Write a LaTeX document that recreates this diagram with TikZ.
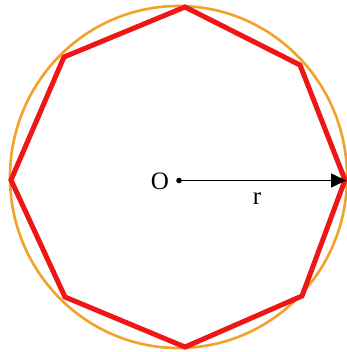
\documentclass[tikz,border=0pt]{standalone}
\usepackage{fontspec}
\setmainfont{Liberation Serif}
\usetikzlibrary{arrows.meta}
\definecolor{ringorange}{RGB}{242,162,40}
\definecolor{polyred}{RGB}{238,22,22}
\begin{document}
\begin{tikzpicture}[x=1pt,y=-1pt,
  ring/.style={draw=ringorange,line width=2.6pt},
  poly/.style={draw=polyred,line width=5pt,line join=miter},
  radius arrow/.style={draw=black,line width=1.5pt,-{Triangle[length=15pt,width=14pt]}},
  lbl/.style={font=\fontsize{25}{28}\selectfont,inner sep=0pt}]
\useasboundingbox (0,0) rectangle (346,352);
\draw[ring] (178.5,177) ellipse [x radius=168.5, y radius=171];
\coordinate (v1) at (185,7);
\coordinate (v2) at (300,65);
\coordinate (v3) at (345,180);
\coordinate (v4) at (302,296);
\coordinate (v5) at (185,347);
\coordinate (v6) at (65,297);
\coordinate (v7) at (11,180);
\coordinate (v8) at (64,57);
\draw[poly] (v1) -- (v2) -- (v3) -- (v4) -- (v5) -- (v6) -- (v7) -- (v8) -- cycle;
\coordinate (O) at (179,180.5);
\coordinate (tip) at (346,180.5);
\fill (O) circle (2.8);
\draw[radius arrow] (O) -- (tip);
\node[lbl] (Olbl) at (160,181) {O};
\node[lbl] (rlbl) at (257,199) {r};
\end{tikzpicture}
\end{document}
